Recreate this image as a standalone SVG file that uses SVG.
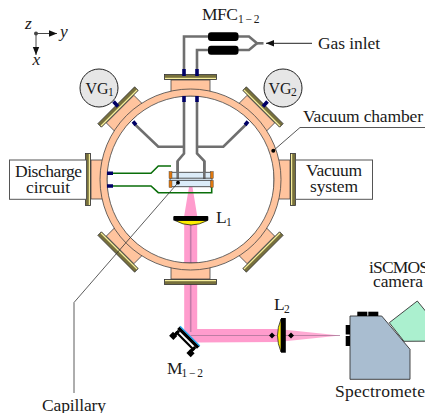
<svg xmlns="http://www.w3.org/2000/svg" xmlns:xlink="http://www.w3.org/1999/xlink" width="425" height="413" viewBox="0 0 425 413">
<style>
text{font-family:"Liberation Serif","Times New Roman",serif;font-size:17.5px;fill:#1a1a1a;text-anchor:start}
.sub{font-size:11.5px}
.it{font-style:italic}
.vg{font-size:16px}
.tube{fill:none;stroke:#6f6f6f;stroke-width:2.6;stroke-linejoin:miter}
.thin{fill:none;stroke:#444;stroke-width:.9}
.navy{stroke:#000066;stroke-width:3.6;fill:none}
.green{fill:none;stroke:#0a6e0a;stroke-width:1.6}
.box{fill:#fff;stroke:#555;stroke-width:1}
.port{fill:#ffc49e;stroke:#444;stroke-width:.8}
.fl{fill:#77703c;stroke:#333;stroke-width:.8}
.fy{fill:#f6ee9c}
.pink{fill:#ff9ccd}
.bk{fill:#000}
</style>
<defs>
<marker id="ah" markerUnits="userSpaceOnUse" markerWidth="10" markerHeight="8" refX="8" refY="4" orient="auto"><path d="M0,0.8L8,4L0,7.2Z" fill="#111"/></marker>
<g id="portShape">
<rect class="port" x="171" y="80" width="39" height="16"/>
<rect class="fl" x="164.5" y="74.5" width="52" height="5"/>
<rect class="fy" x="165" y="77.8" width="51" height="1.2"/>
</g>
</defs>

<g id="beam">
<path class="pink" d="M189,187L192.5,187L197.2,216L197.2,329L280,329L280,342L197,342.5L184.2,331L184.2,216Z"/>
<path class="pink" style="opacity:.85" d="M285,329.8L340,335.5L285,341.2Z"/>
<path d="M190.7,222V332" fill="none" stroke="#c27ba8" stroke-width="1.6"/>
<path d="M190.7,335.5H340" fill="none" stroke="#a07090" stroke-width=".7"/>
</g>

<g id="ports">
<use xlink:href="#portShape"/>
<use xlink:href="#portShape" transform="rotate(45 190.5 179.5)"/>
<use xlink:href="#portShape" transform="rotate(90 190.5 179.5)"/>
<use xlink:href="#portShape" transform="rotate(135 190.5 179.5)"/>
<use xlink:href="#portShape" transform="rotate(180 190.5 179.5)"/>
<use xlink:href="#portShape" transform="rotate(225 190.5 179.5)"/>
<use xlink:href="#portShape" transform="rotate(270 190.5 179.5)"/>
<use xlink:href="#portShape" transform="rotate(315 190.5 179.5)"/>
</g>

<g id="chamber">
<path class="port" fill-rule="evenodd" d="M100,179.5a90.5,90.5 0 1 0 181,0a90.5,90.5 0 1 0 -181,0ZM107,179.5a83.5,83.5 0 1 1 167,0a83.5,83.5 0 1 1 -167,0Z"/>
</g>

<g id="connectors">
<path class="tube" d="M208,36.5H184V69"/>
<path class="tube" d="M208,50H197V69"/>
<path class="tube" d="M238,36.5H249L257,43.3L249,50H238"/>
<path class="tube" d="M257,43.3H263.5"/>
<path d="M312,43.3H266" fill="none" stroke="#222" stroke-width="1" marker-end="url(#ah)"/>
<path class="tube" d="M184,101V153.5L177.7,161V179"/>
<path class="tube" d="M197,101V153.5L204.3,161V179"/>
<path class="tube" d="M134.5,124L158.3,146.7H184"/>
<path class="tube" d="M246.5,124L223.3,146.7H197"/>
<path class="navy" d="M184,69V76M197,69V76M184,96V102M197,96V102"/>
<path class="navy" d="M113.5,101.5L118,106.5M133,121.5L136,125M267.5,101.5L263,106.5M248,121.5L245,125"/>
<path class="navy" d="M107,173.3H113M107,186H113"/>
<path class="green" d="M113,173.3H151L158.3,166H171"/>
<path class="green" d="M113,186H151L158.3,192.7H211.7V186"/>
</g>

<g id="cell">
<rect x="170" y="172.3" width="42" height="14.4" fill="#dcecf8" stroke="#444" stroke-width=".9"/>
<path class="tube" d="M177.7,161V179M204.3,161V179"/>
<path class="thin" d="M170,178.2H212M170,180.4H212"/>
<rect x="169" y="171.5" width="3" height="7" fill="#e0780e" stroke="#444" stroke-width=".4"/>
<rect x="169" y="180.5" width="3" height="7" fill="#e0780e" stroke="#444" stroke-width=".4"/>
<rect x="210.3" y="171.5" width="3" height="7" fill="#e0780e" stroke="#444" stroke-width=".4"/>
<rect x="210.3" y="180.5" width="3" height="7" fill="#e0780e" stroke="#444" stroke-width=".4"/>
</g>

<g id="leaders">
<path d="M74,393V302.5L178,182.7" fill="none" stroke="#333" stroke-width=".8"/>
<circle cx="178" cy="182.7" r="1.9" fill="#000"/>
<path d="M273.3,150.7L300,127.5H425" fill="none" stroke="#444" stroke-width=".9"/>
<circle cx="273.3" cy="150.7" r="2" fill="#000"/>
</g>

<g id="axes">
<path d="M36,33.5H57" fill="none" stroke="#333" stroke-width=".9" marker-end="url(#ah)"/>
<path d="M36,33.5V55" fill="none" stroke="#333" stroke-width=".9" marker-end="url(#ah)"/>
<circle cx="36" cy="33.5" r="2" fill="#444"/>
<text class="it" x="25" y="29">z</text>
<text class="it" x="60" y="36.5">y</text>
<text class="it" x="32.5" y="65">x</text>
</g>

<g id="mfc">
<rect class="bk" x="208" y="32.3" width="30.5" height="8.6" rx="3"/>
<rect class="bk" x="208" y="45.7" width="30.5" height="9" rx="3"/>
<text x="202" y="20"><tspan textLength="36">MFC</tspan><tspan class="sub" x="238" y="23" textLength="21.5">1−2</tspan></text>
</g>
<text id="gas-inlet" x="318" y="49" textLength="62">Gas inlet</text>

<g id="vg1">
<circle cx="99" cy="88" r="19" fill="#e6e6e6" stroke="#222" stroke-width="1"/>
<text class="vg" x="85.5" y="93.5">VG<tspan class="sub" x="108" y="96">1</tspan></text>
</g>
<g id="vg2">
<circle cx="283" cy="88" r="19" fill="#e6e6e6" stroke="#222" stroke-width="1"/>
<text class="vg" x="268.5" y="93.5">VG<tspan class="sub" x="291" y="96">2</tspan></text>
</g>

<text id="vacuum-chamber" x="303" y="122" textLength="120">Vacuum chamber</text>

<g id="discharge">
<rect class="box" x="9.5" y="160" width="77" height="39.3"/>
<text x="15" y="176.5" textLength="67">Discharge</text>
<text x="26" y="192.5" textLength="44">circuit</text>
</g>
<g id="vacuum-system">
<rect class="box" x="295.5" y="160" width="77" height="39.3"/>
<text x="306" y="176" textLength="56">Vacuum</text>
<text x="310" y="191.5" textLength="48">system</text>
</g>

<g id="l1">
<path d="M175,220.5Q191,229.5 207.5,220.5Z" fill="#ffee00" stroke="#222" stroke-width=".8"/>
<rect class="bk" x="173.3" y="216" width="35" height="4.8" rx="1"/>
<text x="216" y="223"><tspan textLength="10">L</tspan><tspan class="sub" x="226" y="226">1</tspan></text>
</g>

<g id="l2">
<path d="M281,319Q274,335.5 281,352Z" fill="#ffee00" stroke="#222" stroke-width=".8"/>
<rect class="bk" x="281" y="318" width="4.8" height="34.7"/>
<path class="bk" d="M272,332.5L275,335.5L272,338.5L269,335.5Z"/>
<path class="bk" d="M291,332.5L294,335.5L291,338.5L288,335.5Z"/>
<text x="274" y="310"><tspan textLength="10">L</tspan><tspan class="sub" x="284" y="313">2</tspan></text>
</g>

<g id="mirror" transform="translate(190 336) rotate(45)">
<rect class="bk" x="-14" y="0.5" width="28" height="3.6"/>
<rect class="bk" x="-13" y="6" width="26" height="2.2"/>
<rect class="bk" x="-13" y="4" width="3" height="7"/>
<rect class="bk" x="10" y="4" width="3" height="7"/>
<rect class="bk" x="-15" y="9" width="6" height="5.5"/>
<rect class="bk" x="9.5" y="9" width="6" height="5.5"/>
<rect x="-14" y="-0.5" width="28" height="1.3" fill="#22a7f0"/>
</g>
<text id="mirror-label" x="167" y="374"><tspan textLength="14">M</tspan><tspan class="sub" x="181.5" y="377" textLength="21.5">1−2</tspan></text>

<g id="camera">
<path d="M389.3,322.7L417.3,301L450,341L404,341.3Z" fill="#abf0cf" stroke="#333" stroke-width=".9"/>
<text x="369" y="273" textLength="60">iSCMOS</text>
<text x="373" y="287" textLength="50">camera</text>
</g>

<g id="spectrometer">
<path d="M350,316H381.7L410,349.3V379.3H350Z" fill="#a9bdd0" stroke="#333" stroke-width=".9"/>
<rect class="bk" x="357.3" y="311.7" width="10" height="4.3"/>
<rect class="bk" x="368.3" y="311.7" width="10" height="4.3"/>
<rect class="bk" x="345.7" y="325" width="4.3" height="9.5"/>
<rect class="bk" x="345.7" y="336" width="4.3" height="10"/>
<text x="335" y="397" textLength="96">Spectrometer</text>
</g>

<text id="capillary" x="42" y="411" textLength="64">Capillary</text>
</svg>
